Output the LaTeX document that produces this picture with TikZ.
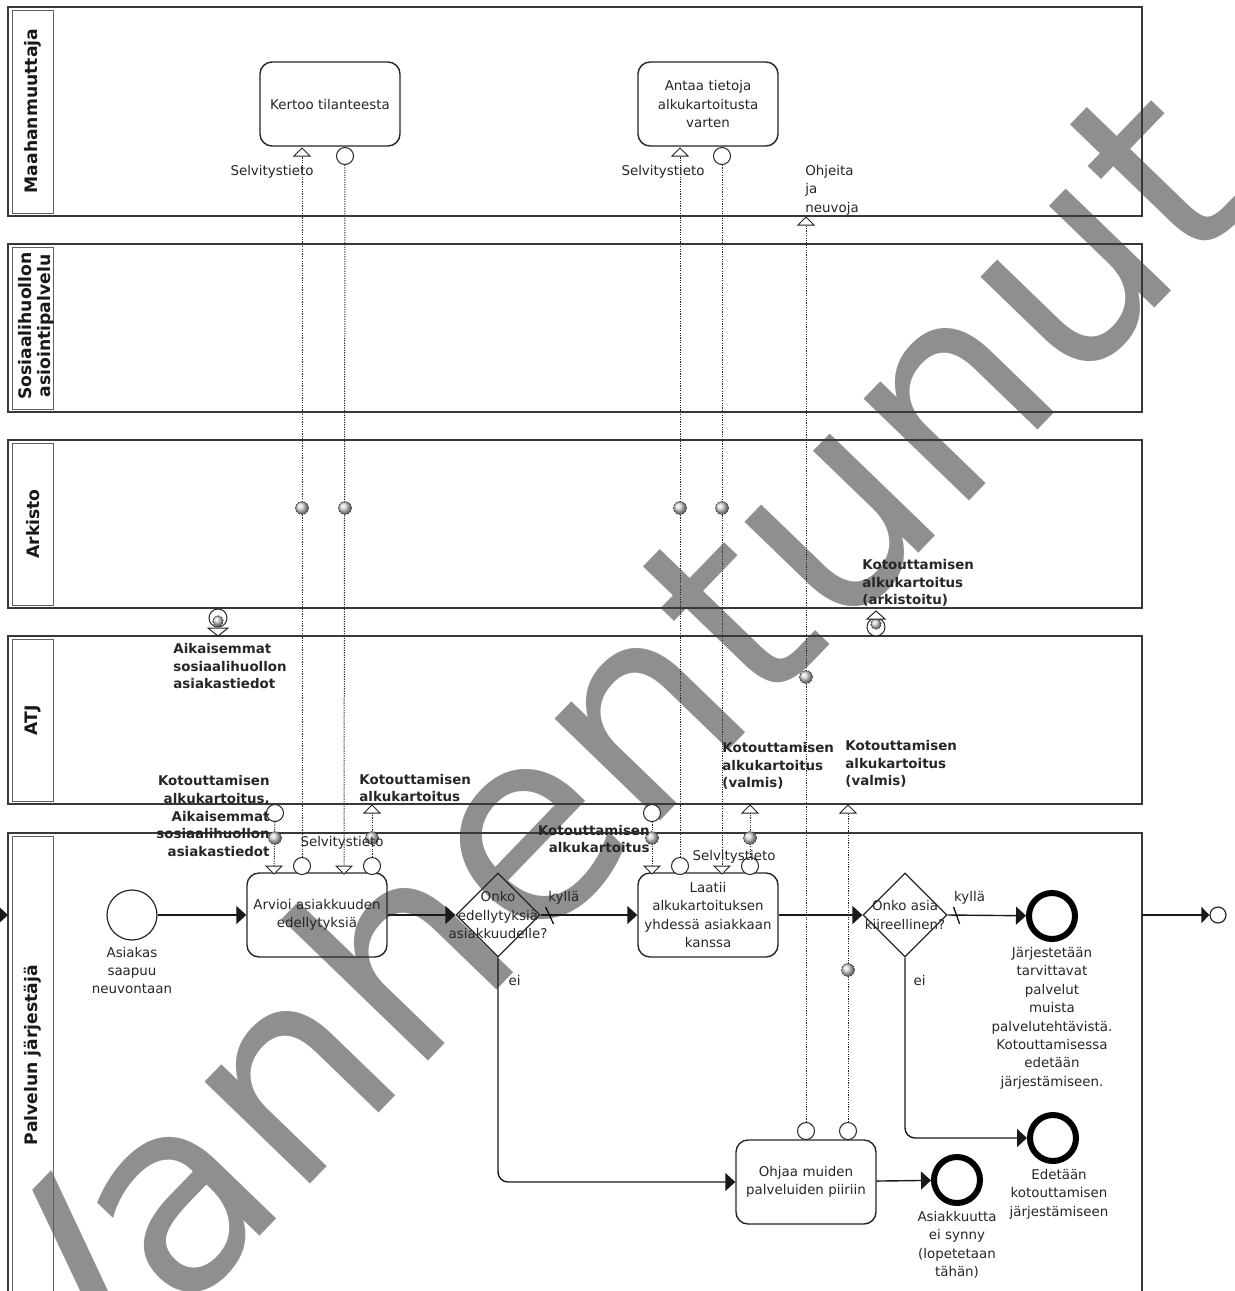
\documentclass[tikz,border=0pt]{standalone}
\usepackage{fontspec}
\setmainfont{DejaVu Sans}
\usepackage{tikz}
\usetikzlibrary{shapes.geometric, arrows.meta, positioning}

\definecolor{lanegray}{HTML}{383838}
\definecolor{stampgray}{HTML}{8F8F8F}
\newcommand{\flowfont}{\fontsize{6.7}{9.2}\selectfont}
\newcommand{\flowbold}{\fontsize{6.7}{8.8}\selectfont\bfseries}

\begin{document}
\begin{tikzpicture}[
  x=0.5pt, y=-0.5pt,
  lane/.style={draw=lanegray, line width=1pt},
  lanebox/.style={draw=lanegray!80, line width=0.5pt},
  lanetitle/.style={rotate=90, align=center, inner sep=0pt,
    font=\fontsize{8.6}{9.4}\selectfont\bfseries, text=black!90},
  task/.style={rectangle, rounded corners=6pt, draw=black!85, line width=0.7pt,
    minimum width=70pt, minimum height=42pt, text width=68pt,
    align=center, font=\flowfont, text=black!85, inner sep=0pt},
  gateway/.style={diamond, aspect=1, draw=black!85, line width=0.6pt,
    minimum size=42pt, inner sep=0pt},
  startev/.style={circle, draw=black!85, line width=0.6pt, minimum size=25pt, inner sep=0pt},
  endev/.style={circle, draw=black, line width=3pt, minimum size=23pt, inner sep=0pt},
  exitev/.style={circle, draw=black!85, line width=0.6pt, minimum size=8pt, inner sep=0pt},
  flow/.style={-{Triangle[length=5pt,width=9pt]}, line width=0.7pt, black!90},
  msg/.style={dash pattern=on 0.6pt off 0.6pt, line width=0.5pt, black!85},
  msgout/.style={circle, draw=black!85, fill=white, line width=0.5pt, minimum size=8.5pt, inner sep=0pt},
  marker/.style={draw=black!85, fill=white, line width=0.5pt},
  icon/.style={draw=black!75, dash pattern=on 1pt off 0.6pt, line width=0.4pt, ball color=gray!30},
  txt/.style={font=\flowfont, text=black!85, align=center, inner sep=0pt},
  btxt/.style={font=\flowbold, text=black!85, inner sep=0pt},
  stamp/.style={font=\fontsize{134}{134}\selectfont, text=stampgray, rotate=46, inner sep=0pt}
]
\useasboundingbox (0,0) rectangle (1235,1291);
\clip (0,0) rectangle (1235,1291);

% watermark under everything
\node[stamp] (stamp) at (592,748) {Vanhentunut};

% lanes
\foreach \ytop/\ybot in {7/216, 244/412, 440/608, 636/804, 833/1330} {
  \draw[lane] (8,\ytop) rectangle (1142,\ybot);
  \draw[lanebox] (12,\ytop+3) rectangle (53,\ybot-3);
}
\node[lanetitle] (laneMaa) at (33,111) {Maahanmuuttaja};
\node[lanetitle] (laneSos) at (36,326) {Sosiaalihuollon\\asiointipalvelu};
\node[lanetitle] (laneArk) at (33,524) {Arkisto};
\node[lanetitle] (laneAtj) at (33,720) {ATJ};
\node[lanetitle] (lanePal) at (33,1055) {Palvelun järjestäjä};

% tasks
\node[task] (kertoo) at (330,104) {Kertoo tilanteesta};
\node[task] (antaa)  at (708,104) {Antaa tietoja\\alkukartoitusta\\varten};
\node[task] (arvioi) at (317,915) {Arvioi asiakkuuden\\edellytyksiä};
\node[task] (laatii) at (708,915) {Laatii\\alkukartoituksen\\yhdessä asiakkaan\\kanssa};
\node[task] (ohjaa)  at (806,1182) {Ohjaa muiden\\palveluiden piiriin};

% gateways and events
\node[gateway, label={[txt]center:{Onko\\edellytyksiä\\asiakkuudelle?}}] (gwEhdot) at (498,915) {};
\node[gateway, label={[txt]center:{Onko asia\\kiireellinen?}}] (gwKiire) at (905,915) {};
\node[startev] (start) at (132,915) {};
\node[endev] (endKiire) at (1052,916) {};
\node[endev] (endEdet)  at (1053,1138) {};
\node[endev] (endEi)    at (957,1180) {};
\node[exitev] (exit) at (1218,915) {};
\coordinate (inflow) at (-20,915);
\coordinate (laneL) at (8,915);
\coordinate (laneR) at (1142,915);

\node[txt, below=3pt of start] (startLbl) {Asiakas\\saapuu\\neuvontaan};
\node[txt, below=2.5pt of endKiire] (kiireLbl) {Järjestetään\\tarvittavat\\palvelut\\muista\\palvelutehtävistä.\\Kotouttamisessa\\edetään\\järjestämiseen.};
\node[txt, below=2.5pt of endEdet, xshift=3pt] (edetLbl) {Edetään\\kotouttamisen\\järjestämiseen};
\node[txt, below=2.5pt of endEi] (eiLbl) {Asiakkuutta\\ei synny\\(lopetetaan\\tähän)};

% sequence flows
\draw[flow] (inflow) -- (laneL);
\draw[flow] (start) -- (arvioi);
\draw[flow] (arvioi) -- (gwEhdot.west);
\draw[flow] (gwEhdot.east) -- node[txt, pos=0.24, above=5pt] {kyllä} (laatii);
\draw[line width=0.6pt] (gwEhdot.east) ++(5,-8) -- ++(8,17);
\draw[flow, rounded corners=5pt] (gwEhdot.south) |- node[txt, pos=0.05, anchor=west, xshift=5pt] {ei} (ohjaa.west);
\draw[flow] (laatii) -- (gwKiire.west);
\draw[flow] (gwKiire.east) -- node[txt, pos=0.28, above=5pt] {kyllä} (endKiire);
\draw[line width=0.6pt] (gwKiire.east) ++(6,-8) -- ++(6,17);
\draw[flow, rounded corners=5pt] (gwKiire.south) |- node[txt, pos=0.064, anchor=west, xshift=4pt] {ei} (endEdet.west);
\draw[flow] (ohjaa) -- (endEi);
\draw[-{Triangle[length=4pt,width=8pt]}, line width=0.7pt, black!90] (laneR) -- (exit);

% message flow ends
\node[msgout] (kertooOut) at (345,156) {};
\coordinate (kertooIn) at (302,148);
\node[msgout] (antaaOut) at (722,156) {};
\coordinate (antaaIn) at (680,148);
\coordinate (ohjeIn) at (806,217);
\node[msgout] (atjOutA) at (275,813) {};
\coordinate (atjInA) at (372,805);
\node[msgout] (atjOutB) at (652,813) {};
\coordinate (atjInB) at (750,805);
\coordinate (atjInC) at (848,805);
\coordinate (arvioiInA) at (274,874);
\node[msgout] (arvioiOutA) at (302,866) {};
\coordinate (arvioiInB) at (344,874);
\node[msgout] (arvioiOutB) at (372,866) {};
\coordinate (laatiiInA) at (652,874);
\node[msgout] (laatiiOutA) at (680,866) {};
\coordinate (laatiiInB) at (722,874);
\node[msgout] (laatiiOutB) at (750,866) {};
\node[msgout] (ohjaaOutA) at (806,1131) {};
\node[msgout] (ohjaaOutB) at (848,1131) {};

% message flows
\draw[msg] (arvioiOutA) -- (kertooIn);
\draw[msg] (kertooOut) -- (arvioiInB);
\draw[msg] (laatiiOutA) -- (antaaIn);
\draw[msg] (antaaOut) -- (laatiiInB);
\draw[msg] (ohjaaOutA) -- (ohjeIn);
\draw[msg] (ohjaaOutB) -- (atjInC);
\draw[msg] (atjOutA) -- (arvioiInA);
\draw[msg] (arvioiOutB) -- (atjInA);
\draw[msg] (atjOutB) -- (laatiiInA);
\draw[msg] (laatiiOutB) -- (atjInB);

\foreach \p in {kertooIn, antaaIn, ohjeIn, atjInA, atjInB, atjInC}
  \draw[marker] (\p) -- ++(-8,8) -- ++(16,0) -- cycle;
\foreach \p in {arvioiInA, arvioiInB, laatiiInA, laatiiInB}
  \draw[marker] (\p) -- ++(-8,-8) -- ++(16,0) -- cycle;

% data icons on the flows
\foreach \x/\y in {302/508, 345/508, 680/508, 722/508, 806/677, 848/970,
                   275/838, 372/838, 652/838, 750/838}
  \draw[icon] (\x,\y) circle[radius=3.2pt];

% stored data items
\node[msgout, minimum size=9pt] (aikData) at (218,618) {};
\draw[icon] (218,621) circle[radius=2.6pt];
\draw[marker] (218,636) -- ++(-10,-8) -- ++(20,0) -- cycle;
\node[msgout, minimum size=9pt] (arkData) at (876,627) {};
\draw[icon] (876,624) circle[radius=2.6pt];
\draw[marker] (876,611) -- ++(-9,8) -- ++(18,0) -- cycle;

% labels
\node[txt] (selvKertoo) at (272,172) {Selvitystieto};
\node[txt] (selvAntaa) at (663,172) {Selvitystieto};
\node[txt, align=left, anchor=west] (ohjeLbl) at (805,190) {Ohjeita\\ja\\neuvoja};
\node[txt] (selvArvioi) at (342,843) {Selvitystieto};
\node[txt] (selvLaatii) at (734,857) {Selvitystieto};
\node[btxt, align=left, anchor=west] (aikLbl) at (173,666) {Aikaisemmat\\sosiaalihuollon\\asiakastiedot};
\node[btxt, align=left, anchor=west] (arkLbl) at (862,583) {Kotouttamisen\\alkukartoitus\\(arkistoitu)};
\node[btxt, align=right, anchor=east] (atjLblA) at (270,816) {Kotouttamisen\\alkukartoitus,\\Aikaisemmat\\sosiaalihuollon\\asiakastiedot};
\node[btxt, align=left, anchor=west] (atjLblB) at (359,788) {Kotouttamisen\\alkukartoitus};
\node[btxt, align=right, anchor=east] (atjLblC) at (650,839) {Kotouttamisen\\alkukartoitus};
\node[btxt, align=left, anchor=west] (atjLblD) at (722,766) {Kotouttamisen\\alkukartoitus\\(valmis)};
\node[btxt, align=left, anchor=west] (atjLblE) at (845,764) {Kotouttamisen\\alkukartoitus\\(valmis)};
\end{tikzpicture}
\end{document}
